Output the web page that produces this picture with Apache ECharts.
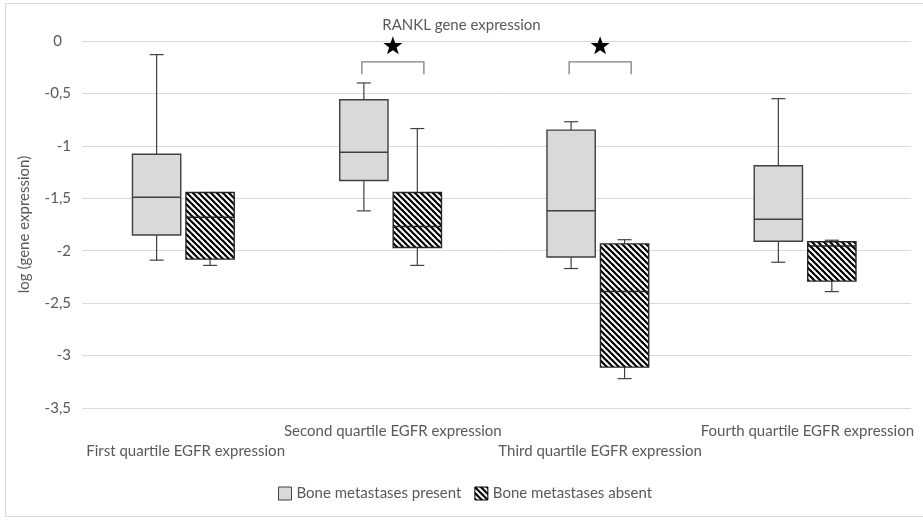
<!DOCTYPE html>
<html>
<head>
<meta charset="utf-8">
<script src="https://cdn.jsdelivr.net/npm/echarts@6/dist/echarts.min.js"></script>
<style>
  html, body { margin: 0; padding: 0; background: #fff; }
  #chart { width: 923px; height: 520px; }
</style>
</head>
<body>
<div id="chart"></div>
<script>
// ---------- Data ----------
const categories = [
  'First quartile EGFR expression',
  'Second quartile EGFR expression',
  'Third quartile EGFR expression',
  'Fourth quartile EGFR expression'
];
const seriesNames = ['Bone metastases present', 'Bone metastases absent'];
// each row: [min, Q1, median, Q3, max]
const presentBoxes = [
  [-2.09, -1.85, -1.49, -1.08, -0.13],
  [-1.62, -1.33, -1.06, -0.56, -0.40],
  [-2.17, -2.06, -1.62, -0.85, -0.77],
  [-2.11, -1.91, -1.70, -1.19, -0.55]
];
const absentBoxes = [
  [-2.14, -2.08, -1.68, -1.445, -1.445],
  [-2.14, -1.97, -1.77, -1.445, -0.835],
  [-3.22, -3.11, -2.39, -1.935, -1.895],
  [-2.39, -2.29, -1.955, -1.915, -1.90]
];
const significantCategories = [1, 2];
const yTicks = { min: -3.5, max: 0, interval: 0.5 };
const chartTitle = 'RANKL gene expression';
const yAxisName = 'log (gene expression)';

// ---------- Styling constants ----------
const TEXT = '#595959';
const FONT = 'Lato';
const FS = 15;
const BOX_W_FRAC = 0.233;
const OFFSET_PRESENT = -0.140;
const OFFSET_ABSENT = 0.118;
const CAP_W = 14;

function makeHatch() {
  const s = 6;
  const c = document.createElement('canvas');
  c.width = s; c.height = s;
  const ctx = c.getContext('2d');
  ctx.fillStyle = '#fff';
  ctx.fillRect(0, 0, s, s);
  ctx.strokeStyle = '#000';
  ctx.lineWidth = 2.2;
  for (let k = -1; k <= 1; k++) {
    ctx.beginPath();
    ctx.moveTo(k * s - 1, -1);
    ctx.lineTo(k * s + s + 1, s + 1);
    ctx.stroke();
  }
  return c;
}
const hatch = { image: makeHatch(), repeat: 'repeat' };

function boxRenderer(offsetFrac, fill, boxStroke, medianStroke, whiskerStroke) {
  return function (params, api) {
    const cat = api.value(0);
    const band = api.size([1, 0])[0];
    const cx = api.coord([cat, 0])[0] + offsetFrac * band;
    const w = BOX_W_FRAC * band;
    const y = [1, 2, 3, 4, 5].map(i => api.coord([cat, api.value(i)])[1]);
    const lineStyle = { stroke: whiskerStroke, lineWidth: 1.2 };
    return {
      type: 'group',
      children: [
        { type: 'line', shape: { x1: cx, y1: y[0], x2: cx, y2: y[1] }, style: lineStyle },
        { type: 'line', shape: { x1: cx, y1: y[3], x2: cx, y2: y[4] }, style: lineStyle },
        { type: 'line', shape: { x1: cx - CAP_W / 2, y1: y[0], x2: cx + CAP_W / 2, y2: y[0] }, style: lineStyle },
        { type: 'line', shape: { x1: cx - CAP_W / 2, y1: y[4], x2: cx + CAP_W / 2, y2: y[4] }, style: lineStyle },
        { type: 'rect', shape: { x: cx - w / 2, y: y[3], width: w, height: y[1] - y[3] },
          style: { fill: fill, stroke: boxStroke, lineWidth: 1.4 } },
        { type: 'line', shape: { x1: cx - w / 2, y1: y[2], x2: cx + w / 2, y2: y[2] },
          style: { stroke: medianStroke, lineWidth: 1.5 } }
      ]
    };
  };
}

function starPoints(cx, cy, R, r) {
  const pts = [];
  for (let i = 0; i < 10; i++) {
    const rad = (i % 2 === 0) ? R : r;
    const a = -Math.PI / 2 + i * Math.PI / 5;
    pts.push([cx + rad * Math.cos(a), cy + rad * Math.sin(a)]);
  }
  return pts;
}

const BRACKET_TOP = -0.2, BRACKET_LEG = -0.317, STAR_Y = -0.04;
function bracketRenderer(params, api) {
  const cat = api.value(0);
  const cx = api.coord([cat, 0])[0];
  const yTop = api.coord([cat, BRACKET_TOP])[1];
  const yLeg = api.coord([cat, BRACKET_LEG])[1];
  const yStar = api.coord([cat, STAR_Y])[1];
  const half = 31;
  return {
    type: 'group',
    children: [
      { type: 'polyline', shape: { points: [[cx - half, yLeg], [cx - half, yTop], [cx + half, yTop], [cx + half, yLeg]] },
        style: { stroke: '#7f7f7f', lineWidth: 1.3, fill: null } },
      { type: 'polygon', shape: { points: starPoints(cx, yStar + 1, 10, 4) },
        style: { fill: '#000' } }
    ]
  };
}

const chart = echarts.init(document.getElementById('chart'), null, { renderer: 'canvas' });
chart.setOption({
  animation: false,
  backgroundColor: '#fff',
  textStyle: { fontFamily: FONT, color: TEXT },
  title: {
    text: chartTitle, left: 'center', top: 13,
    textStyle: { fontFamily: FONT, fontSize: FS, fontWeight: 'normal', color: TEXT }
  },
  graphic: [{
    type: 'rect', shape: { x: 5.5, y: 3.5, width: 940, height: 513 },
    style: { fill: null, stroke: '#d9d9d9', lineWidth: 1 }, silent: true, z: -1
  }],
  legend: {
    left: 273, top: 481, itemWidth: 13, itemHeight: 13, itemGap: 13, icon: 'rect',
    textStyle: { fontFamily: FONT, fontSize: FS, color: TEXT },
    data: [
      { name: seriesNames[0], itemStyle: { color: '#d9d9d9', borderColor: '#404040', borderWidth: 1 } },
      { name: seriesNames[1], itemStyle: { color: hatch, borderColor: '#000', borderWidth: 1 } }
    ]
  },
  grid: { left: 82, right: 12, top: 41, bottom: 112, containLabel: false },
  xAxis: {
    type: 'category', data: categories,
    axisLine: { show: false }, axisTick: { show: false }, splitLine: { show: false },
    axisLabel: {
      interval: 0, margin: 13, color: TEXT, fontFamily: FONT, fontSize: FS, lineHeight: 20,
      hideOverlap: false,
      formatter: (v, i) => (i % 2 === 0 ? '\n' + v : v)
    }
  },
  yAxis: {
    type: 'value', min: yTicks.min, max: yTicks.max, interval: yTicks.interval,
    name: yAxisName, nameLocation: 'middle', nameGap: 50, nameRotate: 90,
    nameTextStyle: { fontFamily: FONT, fontSize: FS, color: TEXT },
    axisLine: { show: false }, axisTick: { show: false },
    splitLine: { lineStyle: { color: '#d9d9d9', width: 1 } },
    axisLabel: {
      margin: 11, color: TEXT, fontFamily: FONT, fontSize: FS,
      formatter: v => (v === 0 ? '{z|0}' : String(v).replace('.', ',')),
      rich: { z: { fontFamily: FONT, fontSize: FS, color: TEXT, padding: [0, 9, 0, 0] } }
    }
  },
  series: [
    {
      name: seriesNames[0], type: 'custom',
      itemStyle: { color: '#d9d9d9', borderColor: '#404040' },
      renderItem: boxRenderer(OFFSET_PRESENT, '#d9d9d9', '#404040', '#404040', '#404040'),
      encode: { x: 0, y: [1, 2, 3, 4, 5] },
      data: presentBoxes.map((d, i) => [i].concat(d))
    },
    {
      name: seriesNames[1], type: 'custom',
      itemStyle: { color: hatch, borderColor: '#000' },
      renderItem: boxRenderer(OFFSET_ABSENT, hatch, '#262626', '#262626', '#404040'),
      encode: { x: 0, y: [1, 2, 3, 4, 5] },
      data: absentBoxes.map((d, i) => [i].concat(d))
    },
    {
      name: 'significance', type: 'custom',
      renderItem: bracketRenderer,
      encode: { x: 0, y: 1 },
      data: significantCategories.map(c => [c, BRACKET_TOP]),
      silent: true
    }
  ]
});
</script>
</body>
</html>
